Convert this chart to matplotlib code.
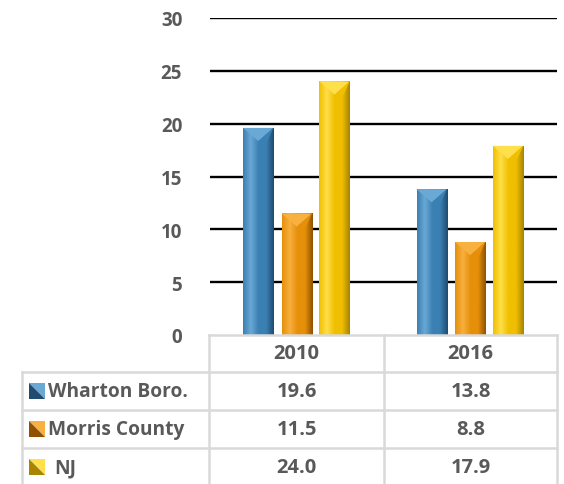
import matplotlib
matplotlib.use("Agg")
import matplotlib.pyplot as plt
import numpy as np
from matplotlib.colors import LinearSegmentedColormap
from matplotlib.patches import Polygon

years = ["2010", "2016"]
series = ["Wharton Boro.", "Morris County", "NJ"]
wharton = [19.6, 13.8]
morris = [11.5, 8.8]
nj = [24.0, 17.9]
values = [wharton, morris, nj]
yticks = [0, 5, 10, 15, 20, 25, 30]

# light / mid / dark shades per series
shades = [
    ("#6AA8D6", "#3B80B3", "#1F4C70"),
    ("#F8B040", "#E6900A", "#8F5200"),
    ("#FFE04A", "#F0BF00", "#A88400"),
]

txt = "#595959"
plt.rcParams['font.family'] = ['Open Sans', 'DejaVu Sans']
plt.rcParams['font.weight'] = 'bold'
fs = 14.5

fig = plt.figure(figsize=(5.64, 4.85), dpi=100)
W, H = 564, 485
ax = fig.add_axes([210 / W, 1 - 336 / H, 347 / W, 317 / H])
ax.set_xlim(-0.5, 1.5)
ax.set_ylim(0, 30)
for s in ax.spines.values():
    s.set_visible(False)
ax.set_xticks([])
ax.set_yticks(yticks)
ax.tick_params(axis="y", length=0, pad=20, labelsize=13.5, labelcolor=txt)
for lab in ax.get_yticklabels():
    lab.set_fontweight("bold")
for yv in yticks[1:]:
    ax.axhline(yv, color="black", lw=1.7, zorder=1)

offsets = [-0.222, 0.0, 0.218]
bw = 0.175
cap = 1.25  # depth of the top bevel in data units
x = np.arange(len(years))
for i, vals in enumerate(values):
    light, mid, dark = shades[i]
    cmap = LinearSegmentedColormap.from_list("g%d" % i, [mid, light, mid, mid, dark])
    bars = ax.bar(x + offsets[i], vals, bw, color=mid, zorder=2, linewidth=0)
    for b in bars:
        x0, h = b.get_x(), b.get_height()
        x1 = x0 + b.get_width()
        xc = (x0 + x1) / 2
        grad = np.linspace(0, 1, 64).reshape(1, -1)
        im = ax.imshow(grad, cmap=cmap, extent=(x0, x1, 0, h), aspect="auto",
                       zorder=3, interpolation="bicubic")
        im.set_clip_path(b)
        ax.add_patch(Polygon([(x0, h), (x1, h), (xc, h - cap)],
                             closed=True, color=light, zorder=4, lw=0))
        ax.add_patch(Polygon([(x1, h), (xc, h - cap), (x1 - bw * 0.2, h - cap)],
                             closed=True, color=mid, zorder=4, lw=0))
ax.set_xlim(-0.5, 1.5)
ax.set_ylim(0, 30)

# data table
tab = fig.add_axes([0, 0, 1, 1])
tab.set_xlim(0, W)
tab.set_ylim(H, 0)
tab.axis("off")
gray = "#D9D9D9"
lw = 1.8
col_x = [22, 209, 384, 557]
row_y = [336, 373, 411, 449, 487]
tab.plot([209, 557], [336, 336], color=gray, lw=lw)
for yy in row_y[1:-1]:
    tab.plot([22, 557], [yy, yy], color=gray, lw=lw)
tab.plot([22, 22], [373, 490], color=gray, lw=lw)
for xx in col_x[1:]:
    tab.plot([xx, xx], [336, 490], color=gray, lw=lw)

for j, yr in enumerate(years):
    tab.text((col_x[j + 1] + col_x[j + 2]) / 2, 354, yr, ha="center", va="center",
             fontsize=fs, fontweight="bold", color=txt)

for i, name in enumerate(series):
    yc = (row_y[i + 1] + row_y[i + 2]) / 2
    light, mid, dark = shades[i]
    kx, ky, ks = 29, yc - 8, 16
    tab.add_patch(Polygon([(kx, ky), (kx + ks, ky), (kx + ks, ky + ks)],
                          closed=True, color=light, lw=0))
    tab.add_patch(Polygon([(kx, ky), (kx, ky + ks), (kx + ks, ky + ks)],
                          closed=True, color=dark, lw=0))
    lx = 48 if name != "NJ" else 54
    tab.text(lx, yc, name, ha="left", va="center", fontsize=13.8,
             fontweight="bold", color=txt)
    for j in range(len(years)):
        tab.text((col_x[j + 1] + col_x[j + 2]) / 2, yc, "%.1f" % values[i][j],
                 ha="center", va="center", fontsize=fs, fontweight="bold", color=txt)

fig.savefig("out.png", dpi=100)
